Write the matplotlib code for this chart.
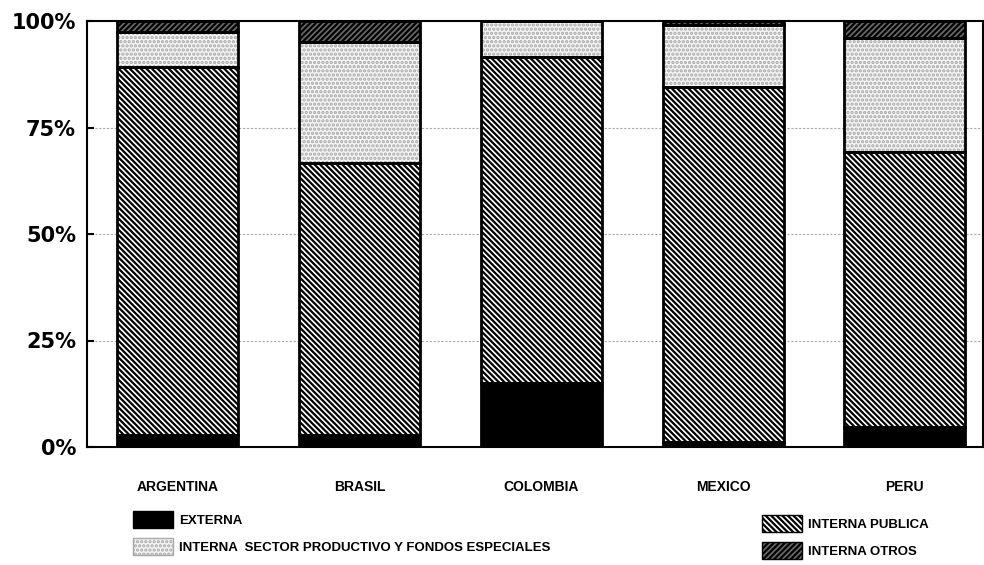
import numpy as np
import matplotlib.pyplot as plt
from matplotlib.patches import Patch

plt.rcParams['font.family'] = ['Liberation Sans Narrow', 'Liberation Sans', 'DejaVu Sans']
plt.rcParams['hatch.linewidth'] = 1.6

# data (percent of total)
paises = ['ARGENTINA', 'BRASIL', 'COLOMBIA', 'MEXICO', 'PERU']
externa = [2.8, 2.8, 15.0, 1.2, 4.8]
interna_publica = [86.4, 63.9, 76.5, 83.3, 64.4]
interna_sector = [8.2, 28.4, 8.5, 14.5, 26.8]
interna_otros = [2.6, 4.9, 0.0, 1.0, 4.0]
yticks = [0, 25, 50, 75, 100]
ytick_labels = ['0%', '25%', '50%', '75%', '100%']

series = [
    ('EXTERNA', externa, dict(facecolor='black', hatch=None, edgecolor='black')),
    ('INTERNA PUBLICA', interna_publica, dict(facecolor='white', hatch='\\\\\\\\\\\\', edgecolor='black')),
    ('INTERNA  SECTOR PRODUCTIVO Y FONDOS ESPECIALES', interna_sector,
     dict(facecolor='#f4f4f4', hatch='....', edgecolor='#a8a8a8')),
    ('INTERNA OTROS', interna_otros, dict(facecolor='#6a6a6a', hatch='//////', edgecolor='black')),
]

fig = plt.figure(figsize=(9.84, 5.65), dpi=100)
ax = fig.add_axes([87 / 984, 1 - 447 / 565, (983 - 87) / 984, 426 / 565])

x = np.arange(len(paises))
w = 121 / 182
bottom = np.zeros(len(paises))
handles = {}
for name, vals, st in series:
    vals = np.array(vals)
    ax.bar(x, vals, w, bottom=bottom, facecolor=st['facecolor'], hatch=st['hatch'],
           edgecolor=st['edgecolor'], linewidth=0, zorder=2)
    ax.bar(x, vals, w, bottom=bottom, fill=False, edgecolor='black', linewidth=2, zorder=3)
    handles[name] = Patch(facecolor=st['facecolor'], hatch=st['hatch'], edgecolor=st['edgecolor'])
    bottom += vals

ax.set_xlim(-0.5, 4.43)
ax.set_ylim(0, 100)
ax.set_yticks(yticks)
ax.set_yticklabels(ytick_labels, fontsize=15, fontweight='bold', family=['DejaVu Sans'])
ax.set_xticks(x)
ax.set_xticklabels(paises, fontsize=10, fontweight='bold')
ax.tick_params(axis='y', length=5, width=1.5, direction='in', pad=8)
ax.tick_params(axis='x', length=0, pad=24)
for g in [25, 50, 75]:
    ax.axhline(g, color='#aaaaaa', linestyle=(0, (2, 1.5)), linewidth=0.8, zorder=1)
for s in ax.spines.values():
    s.set_linewidth(1.5)

leg_kw = dict(loc='upper left', frameon=False, handlelength=3.0, handleheight=1.6,
              handletextpad=0.5, labelspacing=0.75, borderaxespad=0, borderpad=0,
              prop=dict(size=9.5, weight='bold'))
fig.legend([handles['EXTERNA'], handles['INTERNA  SECTOR PRODUCTIVO Y FONDOS ESPECIALES']],
           ['EXTERNA', 'INTERNA  SECTOR PRODUCTIVO Y FONDOS ESPECIALES'],
           bbox_to_anchor=(133 / 984, 1 - 511 / 565), **leg_kw)
fig.legend([handles['INTERNA PUBLICA'], handles['INTERNA OTROS']],
           ['INTERNA PUBLICA', 'INTERNA OTROS'],
           bbox_to_anchor=(762 / 984, 1 - 515 / 565), **leg_kw)

fig.savefig('out.png', dpi=100)
